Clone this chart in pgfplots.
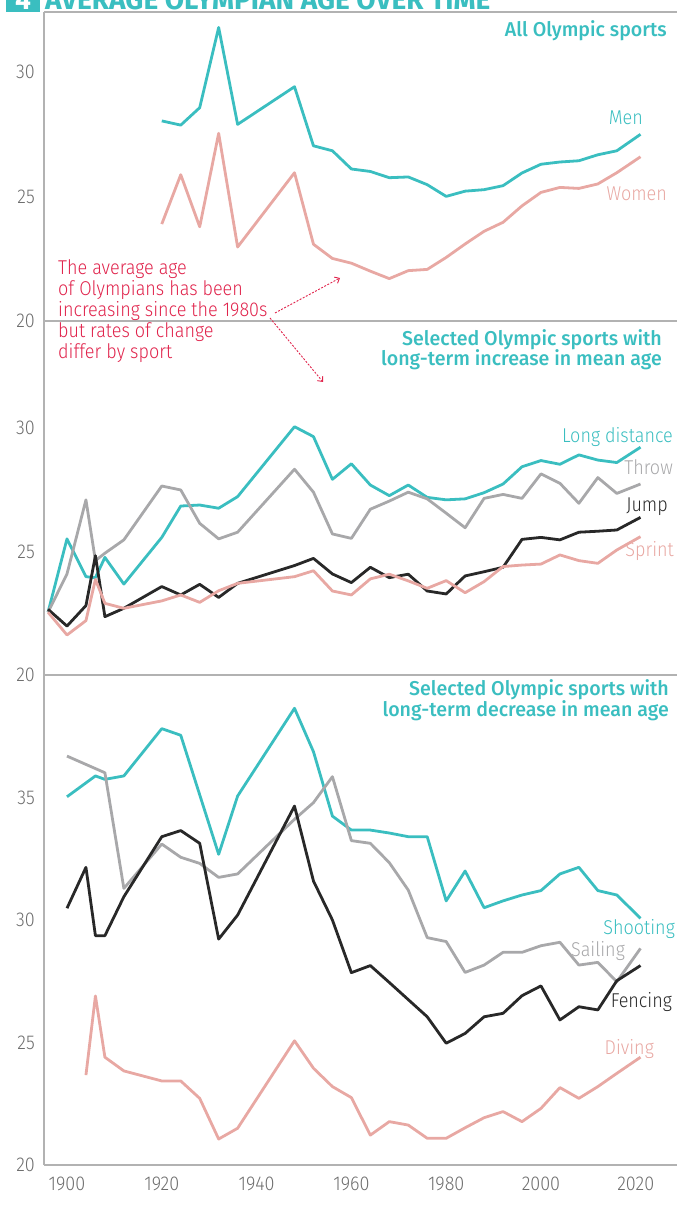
\documentclass[border=0pt]{standalone}
\usepackage{pgfplots}
\pgfplotsset{compat=1.18}
\usepackage{fontspec}
\setmainfont{Fira Sans Light}[FakeStretch=0.9]
\newfontfamily\md{Fira Sans Medium}[FakeStretch=0.98]
\newfontfamily\bd{Fira Sans Bold}
\usetikzlibrary{arrows.meta}
\definecolor{oteal}{RGB}{58,190,192}
\definecolor{opink}{RGB}{232,168,163}
\definecolor{ogray}{RGB}{168,168,170}
\definecolor{oblack}{RGB}{40,40,40}
\definecolor{crim}{RGB}{224,36,76}
\definecolor{axgray}{RGB}{178,178,178}
\definecolor{lblgray}{RGB}{110,110,110}
\pgfplotsset{
  panel/.style={scale only axis, width=633pt, xmin=1895.15, xmax=2028.7, ymin=20,
    axis x line*=bottom, axis y line*=left,
    x axis line style={-, draw=axgray, line width=1.2pt},
    y axis line style={-, draw=axgray, line width=1.2pt},
    tick style={draw=none}, major tick length=0pt,
    yticklabel style={font=\fontsize{20}{20}\selectfont, text=lblgray, inner sep=0pt, xshift=-9pt},
    xticklabel style={font=\fontsize{20}{20}\selectfont, text=lblgray, inner sep=0pt, yshift=-12pt},
    /pgf/number format/assume math mode=true, /pgf/number format/1000 sep={},
    every axis plot/.append style={line width=2.8pt, line join=round, no marks},
    anchor=south west}
}
\begin{document}
\begin{tikzpicture}[x=1pt,y=1pt]
\useasboundingbox (0,0) rectangle (677,1205);
% title
\fill[oteal] (6,1205-11.7) rectangle (40,1240);
\node[anchor=base, text=white, font=\bd\fontsize{28}{28}\selectfont, inner sep=0] at (23,1195) {4};
\node[anchor=base west, text=oteal, font=\bd\fontsize{28}{28}\selectfont, inner sep=0] at (45,1195) {AVERAGE OLYMPIAN AGE OVER TIME};

% top panel
\begin{axis}[panel, at={(44pt,884pt)}, height=309pt, ymax=32.4, ytick={20,25,30}, xtick=\empty]
\draw[axgray, line width=1.2pt] (rel axis cs:0,1) -- (rel axis cs:1,1);
\addplot[oteal] coordinates {(1920,28.03)(1924,27.86)(1928,28.56)(1932,31.78)(1936,27.89)(1948,29.40)(1952,27.03)(1956,26.83)(1960,26.10)(1964,26.0)(1968,25.75)(1972,25.78)(1976,25.47)(1980,25.0)(1984,25.21)(1988,25.27)(1992,25.43)(1996,25.94)(2000,26.29)(2004,26.38)(2008,26.43)(2012,26.67)(2016,26.83)(2021,27.49)};
\addplot[opink] coordinates {(1920,23.89)(1924,25.87)(1928,23.78)(1932,27.53)(1936,22.97)(1948,25.95)(1952,23.08)(1956,22.51)(1960,22.32)(1964,22.0)(1968,21.70)(1972,22.02)(1976,22.07)(1980,22.55)(1984,23.09)(1988,23.60)(1992,23.96)(1996,24.62)(2000,25.16)(2004,25.36)(2008,25.32)(2012,25.50)(2016,25.95)(2021,26.59)};
\end{axis}

% middle panel
\begin{axis}[panel, at={(44pt,530pt)}, height=354pt, ymax=34.33, ytick={20,25,30}, xtick=\empty]
\addplot[oteal] coordinates {(1896,22.54)(1900,25.51)(1904,23.98)(1906,23.94)(1908,24.76)(1912,23.68)(1920,25.57)(1924,26.84)(1928,26.88)(1932,26.75)(1936,27.22)(1948,30.05)(1952,29.65)(1956,27.92)(1960,28.55)(1964,27.69)(1968,27.26)(1972,27.69)(1976,27.19)(1980,27.09)(1984,27.13)(1988,27.38)(1992,27.73)(1996,28.43)(2000,28.68)(2004,28.53)(2008,28.91)(2012,28.70)(2016,28.60)(2021,29.22)};
\addplot[ogray] coordinates {(1896,22.54)(1900,24.09)(1904,27.09)(1906,24.63)(1908,24.93)(1912,25.47)(1920,27.65)(1924,27.49)(1928,26.14)(1932,25.51)(1936,25.78)(1948,28.33)(1952,27.40)(1956,25.71)(1960,25.53)(1964,26.71)(1968,27.04)(1972,27.40)(1976,27.13)(1980,26.55)(1984,25.96)(1988,27.15)(1992,27.31)(1996,27.15)(2000,28.14)(2004,27.76)(2008,26.95)(2012,27.99)(2016,27.35)(2021,27.73)};
\addplot[oblack] coordinates {(1896,22.66)(1900,21.98)(1904,22.81)(1906,24.83)(1908,22.36)(1912,22.70)(1920,23.58)(1924,23.24)(1928,23.67)(1932,23.14)(1936,23.71)(1948,24.43)(1952,24.72)(1956,24.09)(1960,23.74)(1964,24.36)(1968,23.94)(1972,24.08)(1976,23.40)(1980,23.28)(1984,24.01)(1988,24.18)(1992,24.36)(1996,25.49)(2000,25.57)(2004,25.47)(2008,25.78)(2012,25.82)(2016,25.87)(2021,26.38)};
\addplot[opink] coordinates {(1896,22.54)(1900,21.62)(1904,22.20)(1906,23.87)(1908,22.90)(1912,22.70)(1920,23.00)(1924,23.24)(1928,22.94)(1932,23.41)(1936,23.71)(1948,23.98)(1952,24.22)(1956,23.40)(1960,23.24)(1964,23.89)(1968,24.08)(1972,23.81)(1976,23.51)(1980,23.82)(1984,23.33)(1988,23.78)(1992,24.39)(1996,24.45)(2000,24.49)(2004,24.86)(2008,24.63)(2012,24.52)(2016,25.06)(2021,25.60)};
\end{axis}

% bottom panel
\begin{axis}[panel, at={(44pt,40pt)}, height=490pt, ymax=40, ytick={20,25,30,35}, xtick={1900,1920,...,2020}]
\addplot[oteal] coordinates {(1900,35.03)(1906,35.88)(1908,35.74)(1912,35.88)(1920,37.81)(1924,37.54)(1932,32.68)(1936,35.06)(1948,38.64)(1952,36.87)(1956,34.24)(1960,33.67)(1964,33.67)(1968,33.55)(1972,33.40)(1976,33.40)(1980,30.78)(1984,32.0)(1988,30.50)(1992,30.78)(1996,31.02)(2000,31.20)(2004,31.88)(2008,32.15)(2012,31.20)(2016,31.02)(2021,30.07)};
\addplot[ogray] coordinates {(1900,36.69)(1908,36.01)(1912,31.29)(1920,33.10)(1924,32.56)(1928,32.31)(1932,31.74)(1936,31.88)(1948,34.11)(1952,34.79)(1956,35.85)(1960,33.24)(1964,33.13)(1968,32.34)(1972,31.22)(1976,29.28)(1980,29.12)(1984,27.86)(1988,28.16)(1992,28.68)(1996,28.68)(2000,28.95)(2004,29.09)(2008,28.16)(2012,28.27)(2016,27.48)(2021,28.84)};
\addplot[oblack] coordinates {(1900,30.48)(1904,32.15)(1906,29.36)(1908,29.36)(1912,30.95)(1920,33.40)(1924,33.65)(1928,33.13)(1932,29.22)(1936,30.20)(1948,34.65)(1952,31.59)(1956,30.0)(1960,27.85)(1964,28.14)(1968,27.45)(1972,26.75)(1976,26.05)(1980,24.97)(1984,25.37)(1988,26.05)(1992,26.19)(1996,26.91)(2000,27.31)(2004,25.92)(2008,26.46)(2012,26.33)(2016,27.52)(2021,28.14)};
\addplot[opink] coordinates {(1904,23.67)(1906,26.90)(1908,24.40)(1912,23.84)(1920,23.43)(1924,23.43)(1928,22.72)(1932,21.06)(1936,21.50)(1948,25.07)(1952,23.95)(1956,23.20)(1960,22.75)(1964,21.22)(1968,21.77)(1972,21.63)(1976,21.09)(1980,21.09)(1984,21.52)(1988,21.93)(1992,22.18)(1996,21.77)(2000,22.31)(2004,23.16)(2008,22.72)(2012,23.20)(2016,23.74)(2021,24.40)};
\end{axis}

% panel titles
\begin{scope}[every node/.style={inner sep=0, font=\md\fontsize{20}{20}\selectfont, text=oteal}]
\node[anchor=base east] at (667,1205-37) {All Olympic sports};
\node[anchor=base east] at (662,1205-346) {Selected Olympic sports with};
\node[anchor=base east] at (662,1205-366) {long-term increase in mean age};
\node[anchor=base east] at (669,1205-696) {Selected Olympic sports with};
\node[anchor=base east] at (669,1205-717) {long-term decrease in mean age};
\end{scope}

% series labels
\begin{scope}[every node/.style={inner sep=0, font=\fontsize{20}{20}\selectfont, anchor=base east}]
\node[text=oteal] at (643,1205-125) {Men};
\node[text=opink] at (667,1205-201) {Women};
\node[text=oteal] at (673,1205-443) {Long distance};
\node[text=ogray] at (673,1205-475) {Throw};
\node[text=oblack] at (668,1205-512) {Jump};
\node[text=opink] at (674,1205-557) {Sprint};
\node[text=oteal] at (675,1205-935) {Shooting};
\node[text=ogray] at (625,1205-957) {Sailing};
\node[text=oblack] at (672,1205-1008) {Fencing};
\node[text=opink] at (654,1205-1055) {Diving};
\end{scope}

% annotation
\begin{scope}[every node/.style={inner sep=0, font=\fontsize{20}{20}\selectfont, anchor=base west, text=crim}]
\node at (58,1205-275) {The average age};
\node at (58,1205-296) {of Olympians has been};
\node at (58,1205-317) {increasing since the 1980s};
\node at (58,1205-338) {but rates of change};
\node at (58,1205-359) {differ by sport};
\end{scope}
\draw[crim, line width=0.9pt, dash pattern=on 2pt off 1.5pt, -{Straight Barb[length=4pt,width=7pt]}] (275,1205-313) -- (340,1205-278);
\draw[crim, line width=0.9pt, dash pattern=on 2pt off 1.5pt, -{Straight Barb[length=4pt,width=7pt]}] (270,1205-318) -- (323,1205-382);
\end{tikzpicture}
\end{document}
